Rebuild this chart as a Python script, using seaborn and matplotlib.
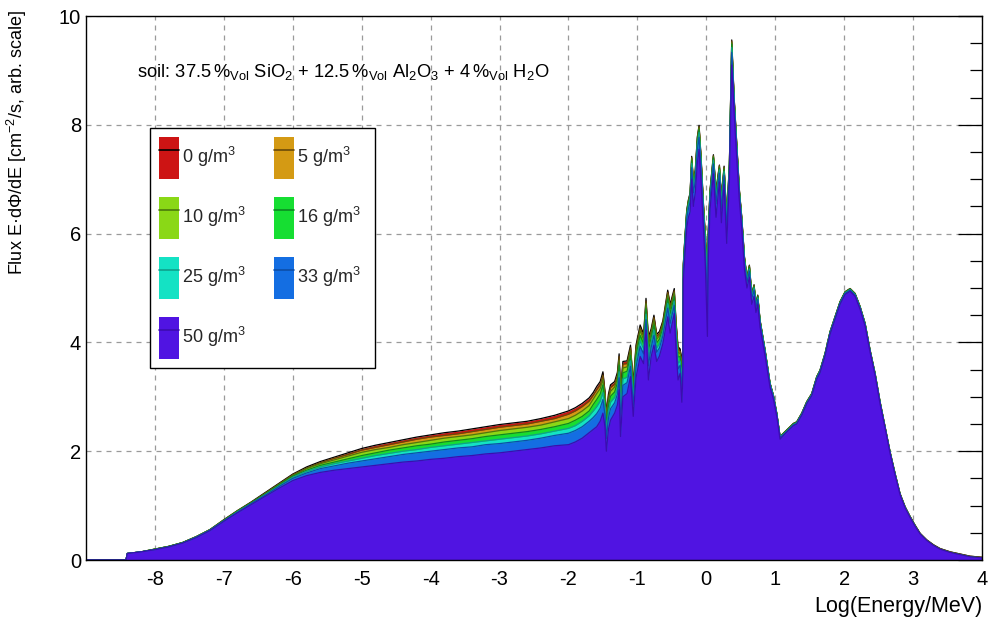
import numpy as np
import matplotlib
matplotlib.use("Agg")
import matplotlib.pyplot as plt
import seaborn as sns
from matplotlib.patches import Patch
from matplotlib.lines import Line2D
from matplotlib.legend_handler import HandlerTuple
from matplotlib.ticker import FixedLocator, MultipleLocator

# ---------------- data ----------------
labels = ["0 g/m$^3$", "5 g/m$^3$", "10 g/m$^3$", "16 g/m$^3$", "25 g/m$^3$", "33 g/m$^3$", "50 g/m$^3$"]

x_a = [-9.0, -8.42, -8.4, -8.2, -8.0, -7.8, -7.6, -7.4, -7.2, -7.0, -6.8, -6.6, -6.4, -6.2, -6.0,
       -5.8, -5.6, -5.4, -5.2, -5.0, -4.8, -4.6, -4.4, -4.2, -4.0, -3.8, -3.6, -3.4, -3.2, -3.0,
       -2.8, -2.6, -2.4, -2.2, -2.0, -1.9, -1.8, -1.7]
x_b = [-1.64, -1.59, -1.54, -1.50, -1.47, -1.45, -1.42, -1.39, -1.33, -1.29, -1.265, -1.245,
       -1.21, -1.15, -1.10, -1.06, -1.02, -0.96, -0.91, -0.875, -0.84, -0.80, -0.76, -0.72,
       -0.68, -0.63, -0.56, -0.525, -0.465, -0.44, -0.41, -0.38, -0.355, -0.34]
x_c = [-0.333, -0.31, -0.284, -0.26, -0.235, -0.212, -0.188, -0.16, -0.13, -0.105, -0.076,
       -0.042, -0.013, 0.016, 0.03, 0.054, 0.103, 0.141, 0.19, 0.219, 0.258, 0.296, 0.335,
       0.369, 0.403, 0.441, 0.48, 0.514, 0.553, 0.59, 0.625, 0.659, 0.693, 0.72, 0.746, 0.78,
       0.853, 0.925, 0.973, 1.022, 1.07]
x_d = [1.143, 1.215, 1.264, 1.312, 1.385, 1.457, 1.53, 1.602, 1.65, 1.723, 1.796, 1.868, 1.941,
       2.013, 2.086, 2.158, 2.231, 2.304, 2.376, 2.449, 2.521, 2.594, 2.666, 2.739, 2.811,
       2.884, 2.957, 3.029, 3.102, 3.198, 3.295, 3.392, 3.537, 3.682, 3.827, 4.0]
log_energy = x_a + x_b + x_c + x_d

flux_0 = [0, 0, 0.12, 0.15, 0.20, 0.25, 0.32, 0.43, 0.56, 0.74, 0.91, 1.07, 1.24, 1.41, 1.58, 1.71, 1.81, 1.89, 1.97, 2.05, 2.11, 2.16, 2.21, 2.26, 2.30, 2.34, 2.37, 2.41, 2.45, 2.49, 2.52, 2.55, 2.60, 2.66, 2.74, 2.80, 2.88, 2.98,
          3.08, 3.19, 3.28, 3.46, 3.10, 2.70, 3.05, 3.22, 3.28, 3.45, 3.79, 3.13, 3.65, 3.66, 3.95, 3.25, 3.95, 4.32, 4.15, 4.81, 4.10, 4.25, 4.50, 4.15, 4.20, 4.40, 4.96, 4.70, 4.99, 4.40, 3.92, 3.88, 3.65, 3.90,
          5.45, 5.94, 6.43, 6.62, 6.75, 7.42, 6.99, 7.17, 7.78, 7.99, 7.41, 6.56, 5.94, 5.25, 6.10, 6.80, 7.45, 6.80, 7.26, 6.68, 7.24, 6.31, 7.29, 9.56, 8.52, 7.66, 6.80, 6.31, 5.58, 5.20, 5.42, 4.90, 5.06, 4.72, 4.87, 4.41, 3.86, 3.25, 3.03, 2.70, 2.27,
          2.36, 2.45, 2.51, 2.54, 2.70, 2.91, 3.06, 3.37, 3.49, 3.80, 4.20, 4.47, 4.75, 4.93, 4.99, 4.90, 4.66, 4.35, 3.86, 3.43, 2.91, 2.45, 1.99, 1.59, 1.22, 0.98, 0.80, 0.64, 0.49, 0.37, 0.28, 0.21, 0.15, 0.11, 0.07, 0.05]
flux_5 = [0, 0, 0.12, 0.15, 0.20, 0.25, 0.32, 0.43, 0.56, 0.74, 0.91, 1.06, 1.23, 1.40, 1.57, 1.69, 1.79, 1.87, 1.94, 2.02, 2.07, 2.12, 2.17, 2.22, 2.26, 2.29, 2.32, 2.36, 2.40, 2.44, 2.47, 2.50, 2.55, 2.60, 2.68, 2.74, 2.82, 2.92,
          3.03, 3.13, 3.22, 3.40, 3.05, 2.64, 3.00, 3.17, 3.23, 3.40, 3.74, 3.06, 3.60, 3.61, 3.90, 3.20, 3.90, 4.27, 4.11, 4.76, 4.04, 4.21, 4.46, 4.11, 4.16, 4.37, 4.92, 4.66, 4.95, 4.36, 3.87, 3.84, 3.59, 3.86,
          5.44, 5.92, 6.41, 6.60, 6.73, 7.40, 6.97, 7.15, 7.76, 7.97, 7.39, 6.54, 5.91, 5.19, 6.08, 6.78, 7.43, 6.78, 7.25, 6.66, 7.22, 6.29, 7.28, 9.54, 8.51, 7.65, 6.79, 6.30, 5.57, 5.19, 5.41, 4.89, 5.05, 4.71, 4.86, 4.40, 3.85, 3.25, 3.03, 2.70, 2.27,
          2.36, 2.45, 2.51, 2.54, 2.70, 2.91, 3.06, 3.37, 3.49, 3.80, 4.20, 4.47, 4.75, 4.93, 4.99, 4.90, 4.66, 4.35, 3.86, 3.43, 2.91, 2.45, 1.99, 1.59, 1.22, 0.98, 0.80, 0.64, 0.49, 0.37, 0.28, 0.21, 0.15, 0.11, 0.07, 0.05]
flux_10 = [0, 0, 0.12, 0.15, 0.20, 0.25, 0.32, 0.43, 0.56, 0.73, 0.90, 1.06, 1.22, 1.39, 1.55, 1.68, 1.77, 1.84, 1.91, 1.98, 2.03, 2.07, 2.12, 2.16, 2.20, 2.24, 2.27, 2.30, 2.34, 2.38, 2.41, 2.44, 2.48, 2.54, 2.60, 2.66, 2.74, 2.84,
           2.96, 3.06, 3.15, 3.32, 2.98, 2.57, 2.93, 3.10, 3.18, 3.34, 3.67, 2.98, 3.53, 3.55, 3.85, 3.14, 3.84, 4.22, 4.05, 4.71, 3.96, 4.16, 4.40, 4.06, 4.12, 4.32, 4.87, 4.61, 4.91, 4.31, 3.81, 3.80, 3.52, 3.81,
           5.42, 5.91, 6.40, 6.59, 6.72, 7.38, 6.94, 7.13, 7.73, 7.95, 7.36, 6.51, 5.89, 5.14, 6.05, 6.77, 7.42, 6.75, 7.23, 6.63, 7.21, 6.26, 7.26, 9.51, 8.49, 7.63, 6.78, 6.29, 5.56, 5.18, 5.40, 4.88, 5.04, 4.70, 4.85, 4.40, 3.85, 3.24, 3.02, 2.69, 2.27,
           2.35, 2.44, 2.50, 2.53, 2.69, 2.90, 3.05, 3.36, 3.48, 3.79, 4.19, 4.46, 4.74, 4.92, 4.98, 4.89, 4.65, 4.34, 3.85, 3.42, 2.90, 2.44, 1.98, 1.58, 1.21, 0.97, 0.79, 0.63, 0.48, 0.36, 0.27, 0.20, 0.14, 0.10, 0.06, 0.04]
flux_16 = [0, 0, 0.12, 0.15, 0.20, 0.25, 0.32, 0.42, 0.55, 0.73, 0.90, 1.05, 1.21, 1.38, 1.54, 1.65, 1.74, 1.80, 1.86, 1.92, 1.97, 2.02, 2.06, 2.10, 2.13, 2.17, 2.20, 2.23, 2.27, 2.30, 2.33, 2.36, 2.40, 2.45, 2.51, 2.57, 2.64, 2.74,
           2.86, 2.95, 3.05, 3.22, 2.89, 2.48, 2.84, 3.01, 3.09, 3.26, 3.58, 2.86, 3.44, 3.47, 3.76, 3.06, 3.76, 4.13, 3.98, 4.62, 3.85, 4.09, 4.32, 3.99, 4.06, 4.27, 4.80, 4.53, 4.84, 4.24, 3.73, 3.74, 3.41, 3.74,
           5.40, 5.88, 6.37, 6.56, 6.69, 7.34, 6.90, 7.09, 7.69, 7.91, 7.33, 6.48, 5.84, 5.05, 6.01, 6.74, 7.39, 6.71, 7.20, 6.59, 7.18, 6.22, 7.24, 9.48, 8.47, 7.61, 6.76, 6.27, 5.54, 5.16, 5.38, 4.86, 5.02, 4.69, 4.84, 4.39, 3.84, 3.24, 3.02, 2.69, 2.26,
           2.35, 2.44, 2.50, 2.53, 2.69, 2.90, 3.05, 3.36, 3.48, 3.79, 4.19, 4.46, 4.74, 4.92, 4.98, 4.89, 4.65, 4.34, 3.85, 3.42, 2.90, 2.44, 1.98, 1.58, 1.21, 0.97, 0.79, 0.63, 0.48, 0.36, 0.27, 0.20, 0.14, 0.10, 0.06, 0.04]
flux_25 = [0, 0, 0.12, 0.15, 0.19, 0.24, 0.31, 0.42, 0.55, 0.72, 0.89, 1.04, 1.20, 1.36, 1.52, 1.63, 1.71, 1.77, 1.82, 1.87, 1.92, 1.96, 2.00, 2.03, 2.07, 2.10, 2.13, 2.16, 2.19, 2.22, 2.25, 2.28, 2.32, 2.37, 2.42, 2.47, 2.55, 2.65,
           2.74, 2.82, 2.92, 3.08, 2.78, 2.35, 2.73, 2.90, 2.99, 3.15, 3.46, 2.70, 3.33, 3.36, 3.66, 2.95, 3.65, 4.03, 3.88, 4.52, 3.71, 4.00, 4.23, 3.90, 3.98, 4.19, 4.72, 4.44, 4.76, 4.15, 3.62, 3.66, 3.28, 3.65,
           5.36, 5.84, 6.33, 6.52, 6.65, 7.29, 6.84, 7.04, 7.64, 7.86, 7.27, 6.42, 5.78, 4.91, 5.95, 6.70, 7.35, 6.65, 7.17, 6.54, 7.14, 6.16, 7.20, 9.42, 8.44, 7.58, 6.74, 6.25, 5.51, 5.14, 5.35, 4.84, 5.00, 4.67, 4.82, 4.37, 3.83, 3.23, 3.01, 2.68, 2.26,
           2.34, 2.43, 2.49, 2.52, 2.68, 2.89, 3.04, 3.35, 3.47, 3.78, 4.18, 4.45, 4.73, 4.91, 4.97, 4.88, 4.64, 4.33, 3.84, 3.41, 2.89, 2.43, 1.97, 1.57, 1.20, 0.96, 0.78, 0.62, 0.47, 0.35, 0.26, 0.19, 0.13, 0.09, 0.05, 0.03]
flux_33 = [0, 0, 0.12, 0.15, 0.19, 0.24, 0.31, 0.42, 0.55, 0.72, 0.88, 1.04, 1.19, 1.35, 1.50, 1.60, 1.68, 1.73, 1.78, 1.82, 1.86, 1.90, 1.94, 1.97, 2.00, 2.03, 2.06, 2.08, 2.12, 2.14, 2.17, 2.20, 2.24, 2.29, 2.33, 2.38, 2.45, 2.55,
           2.62, 2.69, 2.79, 2.95, 2.67, 2.23, 2.61, 2.78, 2.89, 3.05, 3.35, 2.55, 3.21, 3.26, 3.56, 2.84, 3.55, 3.93, 3.79, 4.42, 3.57, 3.91, 4.13, 3.82, 3.90, 4.12, 4.63, 4.35, 4.68, 4.07, 3.51, 3.58, 3.15, 3.57,
           5.30, 5.77, 6.27, 6.46, 6.58, 7.21, 6.75, 6.96, 7.54, 7.77, 7.18, 6.33, 5.67, 4.68, 5.85, 6.63, 7.28, 6.55, 7.11, 6.44, 7.07, 6.07, 7.15, 9.33, 8.39, 7.53, 6.70, 6.21, 5.47, 5.10, 5.31, 4.80, 4.96, 4.64, 4.79, 4.35, 3.81, 3.21, 3.00, 2.67, 2.25,
           2.33, 2.42, 2.48, 2.51, 2.67, 2.88, 3.03, 3.34, 3.46, 3.77, 4.17, 4.44, 4.72, 4.90, 4.96, 4.87, 4.63, 4.32, 3.83, 3.40, 2.88, 2.42, 1.96, 1.56, 1.19, 0.95, 0.77, 0.61, 0.46, 0.34, 0.25, 0.18, 0.12, 0.08, 0.04, 0.02]
flux_50 = [0, 0, 0.12, 0.15, 0.19, 0.24, 0.31, 0.41, 0.54, 0.71, 0.87, 1.02, 1.17, 1.32, 1.46, 1.55, 1.61, 1.65, 1.68, 1.71, 1.74, 1.77, 1.80, 1.82, 1.85, 1.87, 1.90, 1.92, 1.95, 1.97, 2.00, 2.03, 2.06, 2.10, 2.12, 2.17, 2.24, 2.34,
           2.40, 2.45, 2.55, 2.70, 2.45, 2.00, 2.40, 2.57, 2.70, 2.85, 3.13, 2.27, 3.00, 3.06, 3.37, 2.64, 3.35, 3.74, 3.61, 4.23, 3.31, 3.74, 3.95, 3.65, 3.75, 3.98, 4.47, 4.17, 4.53, 3.90, 3.31, 3.43, 2.90, 3.40,
           5.15, 5.60, 6.10, 6.30, 6.40, 7.00, 6.50, 6.75, 7.30, 7.55, 6.95, 6.10, 5.40, 4.11, 5.60, 6.45, 7.10, 6.30, 6.95, 6.20, 6.90, 5.82, 7.00, 9.10, 8.25, 7.40, 6.60, 6.10, 5.35, 5.00, 5.20, 4.70, 4.85, 4.55, 4.70, 4.28, 3.75, 3.17, 2.96, 2.64, 2.22,
           2.32, 2.41, 2.47, 2.50, 2.66, 2.87, 3.02, 3.32, 3.44, 3.75, 4.15, 4.42, 4.70, 4.88, 4.94, 4.85, 4.61, 4.30, 3.82, 3.39, 2.87, 2.42, 1.96, 1.56, 1.20, 0.96, 0.78, 0.62, 0.48, 0.36, 0.27, 0.20, 0.14, 0.10, 0.06, 0.04]

series = [flux_0, flux_5, flux_10, flux_16, flux_25, flux_33, flux_50]
for s in series:
    assert len(s) == len(log_energy), (len(s), len(log_energy))

fill_colors = ["#cd1414", "#d49a14", "#8ad816", "#16de32", "#14e2c4", "#146ee2", "#5014e2"]
edge_colors = ["#000000", "#6a4a08", "#4a7a0c", "#0c8a22", "#0ea08c", "#0c4ea8", "#3c0cb0"]

# ---------------- style ----------------
sns.set_theme(style="white")
plt.rcParams["font.family"] = ["Liberation Sans", "DejaVu Sans"]
plt.rcParams["mathtext.fontset"] = "custom"
plt.rcParams["mathtext.rm"] = "Liberation Sans"
plt.rcParams["mathtext.it"] = "Liberation Sans:italic"
plt.rcParams["mathtext.bf"] = "Liberation Sans:bold"
plt.rcParams["axes.unicode_minus"] = False

fig = plt.figure(figsize=(9.88, 6.23), dpi=100)
ax = fig.add_axes([86 / 988, 63 / 623, 896 / 988, 544 / 623])

x = np.array(log_energy)
for i, (y, fc, ec) in enumerate(zip(series, fill_colors, edge_colors)):
    ax.fill_between(x, 0, y, color=fc, linewidth=0, zorder=2 + 2 * i)
    sns.lineplot(x=x, y=y, color=ec, linewidth=0.9, ax=ax, estimator=None,
                 sort=False, legend=False, zorder=3 + 2 * i)

ax.set_xlim(-9, 4)
ax.set_ylim(0, 10)

# grid and ticks (ROOT-like)
ax.set_axisbelow(True)
ax.xaxis.set_major_locator(FixedLocator(np.arange(-8, 5, 1)))
log_minor = [k + np.log10(m) for k in range(-9, 4) for m in range(2, 10)]
ax.xaxis.set_minor_locator(FixedLocator(log_minor))
ax.yaxis.set_major_locator(MultipleLocator(2))
ax.yaxis.set_minor_locator(MultipleLocator(0.5))
ax.grid(True, which="major", color="#9a9a9a", linestyle=(0, (4, 4)), linewidth=0.9)
ax.tick_params(which="both", direction="in", top=False, right=True, colors="black",
               labelsize=14.5, width=0.9)
ax.tick_params(axis="x", which="major", length=9, pad=7)
ax.tick_params(axis="x", which="minor", length=5)
ax.tick_params(axis="y", which="major", length=17, pad=3.5)
ax.tick_params(axis="y", which="minor", length=8.5)
for sp in ax.spines.values():
    sp.set_color("black")
    sp.set_linewidth(1.0)
    sp.set_zorder(30)

ax.set_xlabel("Log(Energy/MeV)", fontsize=15.5, loc="right", color="black")
ax.xaxis.set_label_coords(1.0, -0.066)
ax.set_ylabel("Flux E·dΦ/dE [cm$^{-2}$/s, arb. scale]", fontsize=13, loc="top", color="black")
ax.yaxis.set_label_coords(-0.064, 1.011)

ax.text(-8.26, 8.88,
        r"soil: 37.5$\,\%_{\rm Vol}$ SiO$_2$ + 12.5$\,\%_{\rm Vol}$ Al$_2$O$_3$ + 4$\,\%_{\rm Vol}$ H$_2$O",
        fontsize=13.2, va="baseline", ha="left", color="black", zorder=40)

# legend: ROOT-like 2-column box
handles = [(Patch(facecolor=fc, edgecolor="none"), Line2D([], [], color=ec, lw=1.2))
           for fc, ec in zip(fill_colors, edge_colors)]
order = [0, 2, 4, 6, 1, 3, 5]
leg_labels = [labels[i] + ("  " if i in (1, 3, 5) else "") for i in order]
leg = ax.legend([handles[i] for i in order], leg_labels,
                handler_map={tuple: HandlerTuple(ndivide=1)},
                loc="upper left", bbox_to_anchor=(64 / 896, 432 / 544), borderaxespad=0,
                ncol=2, fontsize=13, handlelength=1.1, handleheight=3.2,
                labelspacing=1.0, handletextpad=0.17, columnspacing=1.55,
                borderpad=0.5, fancybox=False, framealpha=1, edgecolor="black")
leg.get_frame().set_linewidth(1.0)
leg.set_zorder(50)

fig.savefig("out.png", dpi=100)
